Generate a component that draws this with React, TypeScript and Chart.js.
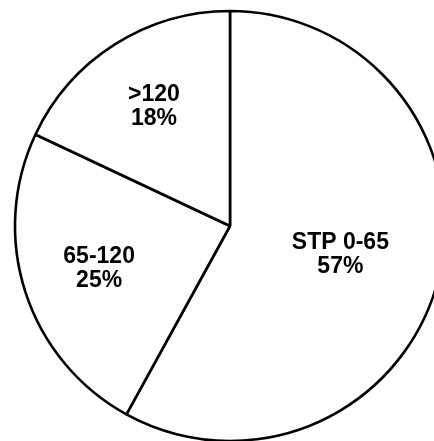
import React, { useEffect, useRef } from "react";
import { Chart, registerables } from "chart.js";

Chart.register(...registerables);

const categories: string[] = ["STP 0-65", "65-120", ">120"];
const shares: number[] = [58, 24, 18];
const percentLabels: string[] = ["57%", "25%", "18%"];
const labelRadiusFraction: number[] = [0.53, 0.64, 0.66];

const labelPlugin = {
  id: "sliceLabels",
  afterDatasetsDraw(chart: any) {
    const meta = chart.getDatasetMeta(0);
    const ctx = chart.ctx;
    ctx.save();
    ctx.fillStyle = "#000";
    ctx.font = "bold 23px 'Liberation Sans', Arial, sans-serif";
    ctx.textAlign = "center";
    ctx.textBaseline = "middle";
    meta.data.forEach((arc: any, i: number) => {
      const p = arc.getProps(["x", "y", "startAngle", "endAngle", "outerRadius"], true);
      const mid = (p.startAngle + p.endAngle) / 2;
      const r = p.outerRadius * labelRadiusFraction[i];
      const cx = p.x + Math.cos(mid) * r;
      const cy = p.y + Math.sin(mid) * r;
      ctx.fillText(categories[i], cx, cy - 12);
      ctx.fillText(percentLabels[i], cx, cy + 12);
    });
    ctx.restore();
  },
};

export default function App() {
  const canvasRef = useRef<HTMLCanvasElement>(null);

  useEffect(() => {
    if (!canvasRef.current) return;
    const chart = new Chart(canvasRef.current, {
      type: "pie",
      data: {
        labels: categories,
        datasets: [
          {
            data: shares,
            backgroundColor: "#ffffff",
            borderColor: "#000000",
            borderWidth: 2.6,
          },
        ],
      },
      options: {
        animation: false,
        responsive: true,
        maintainAspectRatio: false,
        radius: 215,
        layout: { padding: 0 },
        plugins: {
          legend: { display: false },
          tooltip: { enabled: false },
        },
      } as any,
      plugins: [labelPlugin],
    });
    return () => chart.destroy();
  }, []);

  return (
    <div
      style={{
        position: "fixed",
        left: 0,
        top: 0,
        width: 434,
        height: 441,
        overflow: "hidden",
        background: "#fff",
      }}
    >
      <div style={{ position: "relative", width: 460, height: 452 }}>
        <canvas ref={canvasRef} style={{ display: "block" }} />
      </div>
    </div>
  );
}
